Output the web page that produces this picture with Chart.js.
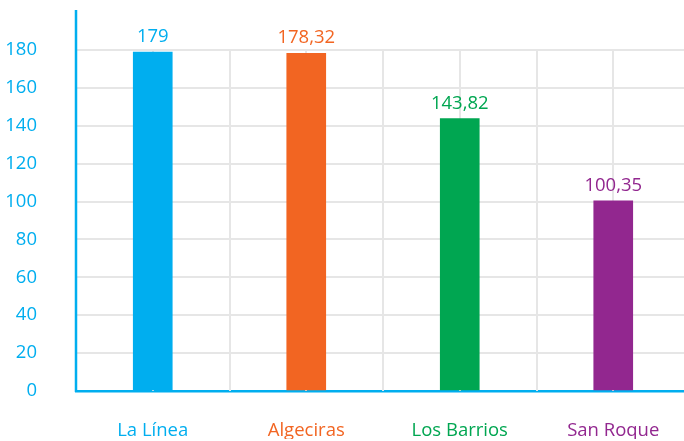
<!DOCTYPE html>
<html>
<head>
<meta charset="utf-8">
<script src="https://cdn.jsdelivr.net/npm/chart.js@4.4.1/dist/chart.umd.min.js"></script>
<style>
  html, body { margin: 0; padding: 0; background: #fff; overflow: hidden; }
  #marco { width: 684px; height: 441px; overflow: hidden; position: relative; }
  #barChart { position: absolute; left: 0; top: 0; }
</style>
</head>
<body>
<div id="marco"><canvas id="barChart" width="690" height="441"></canvas></div>
<script>
// data
const municipios = ['La Línea', 'Algeciras', 'Los Barrios', 'San Roque'];
const valores = [179, 178.32, 143.82, 100.35];
const colores = ['#00aeef', '#f26522', '#00a651', '#92278f'];

const azul = '#00aeef';
const gris = '#e6e6e6';
const fuente = "'Open Sans', sans-serif";

// vertical grid: at every category centre and every boundary
const rejilla = {
    id: 'rejilla',
    beforeDatasetsDraw(chart) {
        const c = chart.ctx;
        const area = chart.chartArea;
        const paso = (area.right - area.left) / (municipios.length * 2);
        c.save();
        c.strokeStyle = gris;
        c.lineWidth = 2;
        c.beginPath();
        for (let i = 1; i <= municipios.length * 2; i++) {
            const x = Math.round(area.left + i * paso);
            c.moveTo(x, area.top - 1);
            c.lineTo(x, area.bottom);
        }
        c.stroke();
        c.restore();
    }
};

// left axis line goes higher than the 180 line
const ejeIzq = {
    id: 'ejeIzq',
    afterDatasetsDraw(chart) {
        const c = chart.ctx;
        const area = chart.chartArea;
        c.save();
        c.strokeStyle = azul;
        c.lineWidth = 2.5;
        c.beginPath();
        c.moveTo(area.left, 10);
        c.lineTo(area.left, area.bottom + 1);
        c.stroke();
        c.restore();
    }
};

// value labels above the bars
const etiquetas = {
    id: 'etiquetas',
    afterDatasetsDraw(chart) {
        const c = chart.ctx;
        const meta = chart.getDatasetMeta(0);
        c.save();
        c.font = '18.5px ' + fuente;
        c.textAlign = 'center';
        c.textBaseline = 'alphabetic';
        meta.data.forEach(function (bar, i) {
            c.fillStyle = colores[i];
            c.fillText(String(valores[i]).replace('.', ','), bar.x, bar.y - 10);
        });
        c.restore();
    }
};

new Chart(document.getElementById('barChart'), {
    type: 'bar',
    data: {
        labels: municipios,
        datasets: [{
            data: valores,
            backgroundColor: colores,
            barThickness: 39
        }]
    },
    options: {
        responsive: false,
        animation: false,
        layout: { padding: { top: 48, right: 0, left: 0, bottom: 0 } },
        plugins: {
            legend: { display: false },
            tooltip: { enabled: false }
        },
        scales: {
            x: {
                offset: true,
                grid: { display: false },
                border: { color: azul, width: 2.5 },
                ticks: {
                    padding: 21,
                    font: { family: fuente, size: 18.5 },
                    color: function (ctx) { return colores[ctx.index]; }
                },
                afterFit: function (scale) { scale.height = 48; }
            },
            y: {
                min: 0,
                max: 180,
                grid: { color: gris, lineWidth: 2, drawTicks: false },
                border: { display: false },
                ticks: {
                    stepSize: 20,
                    padding: 39,
                    color: azul,
                    font: { family: fuente, size: 18.5 }
                },
                afterFit: function (scale) { scale.width = 76; }
            }
        }
    },
    plugins: [rejilla, ejeIzq, etiquetas]
});
</script>
</body>
</html>
